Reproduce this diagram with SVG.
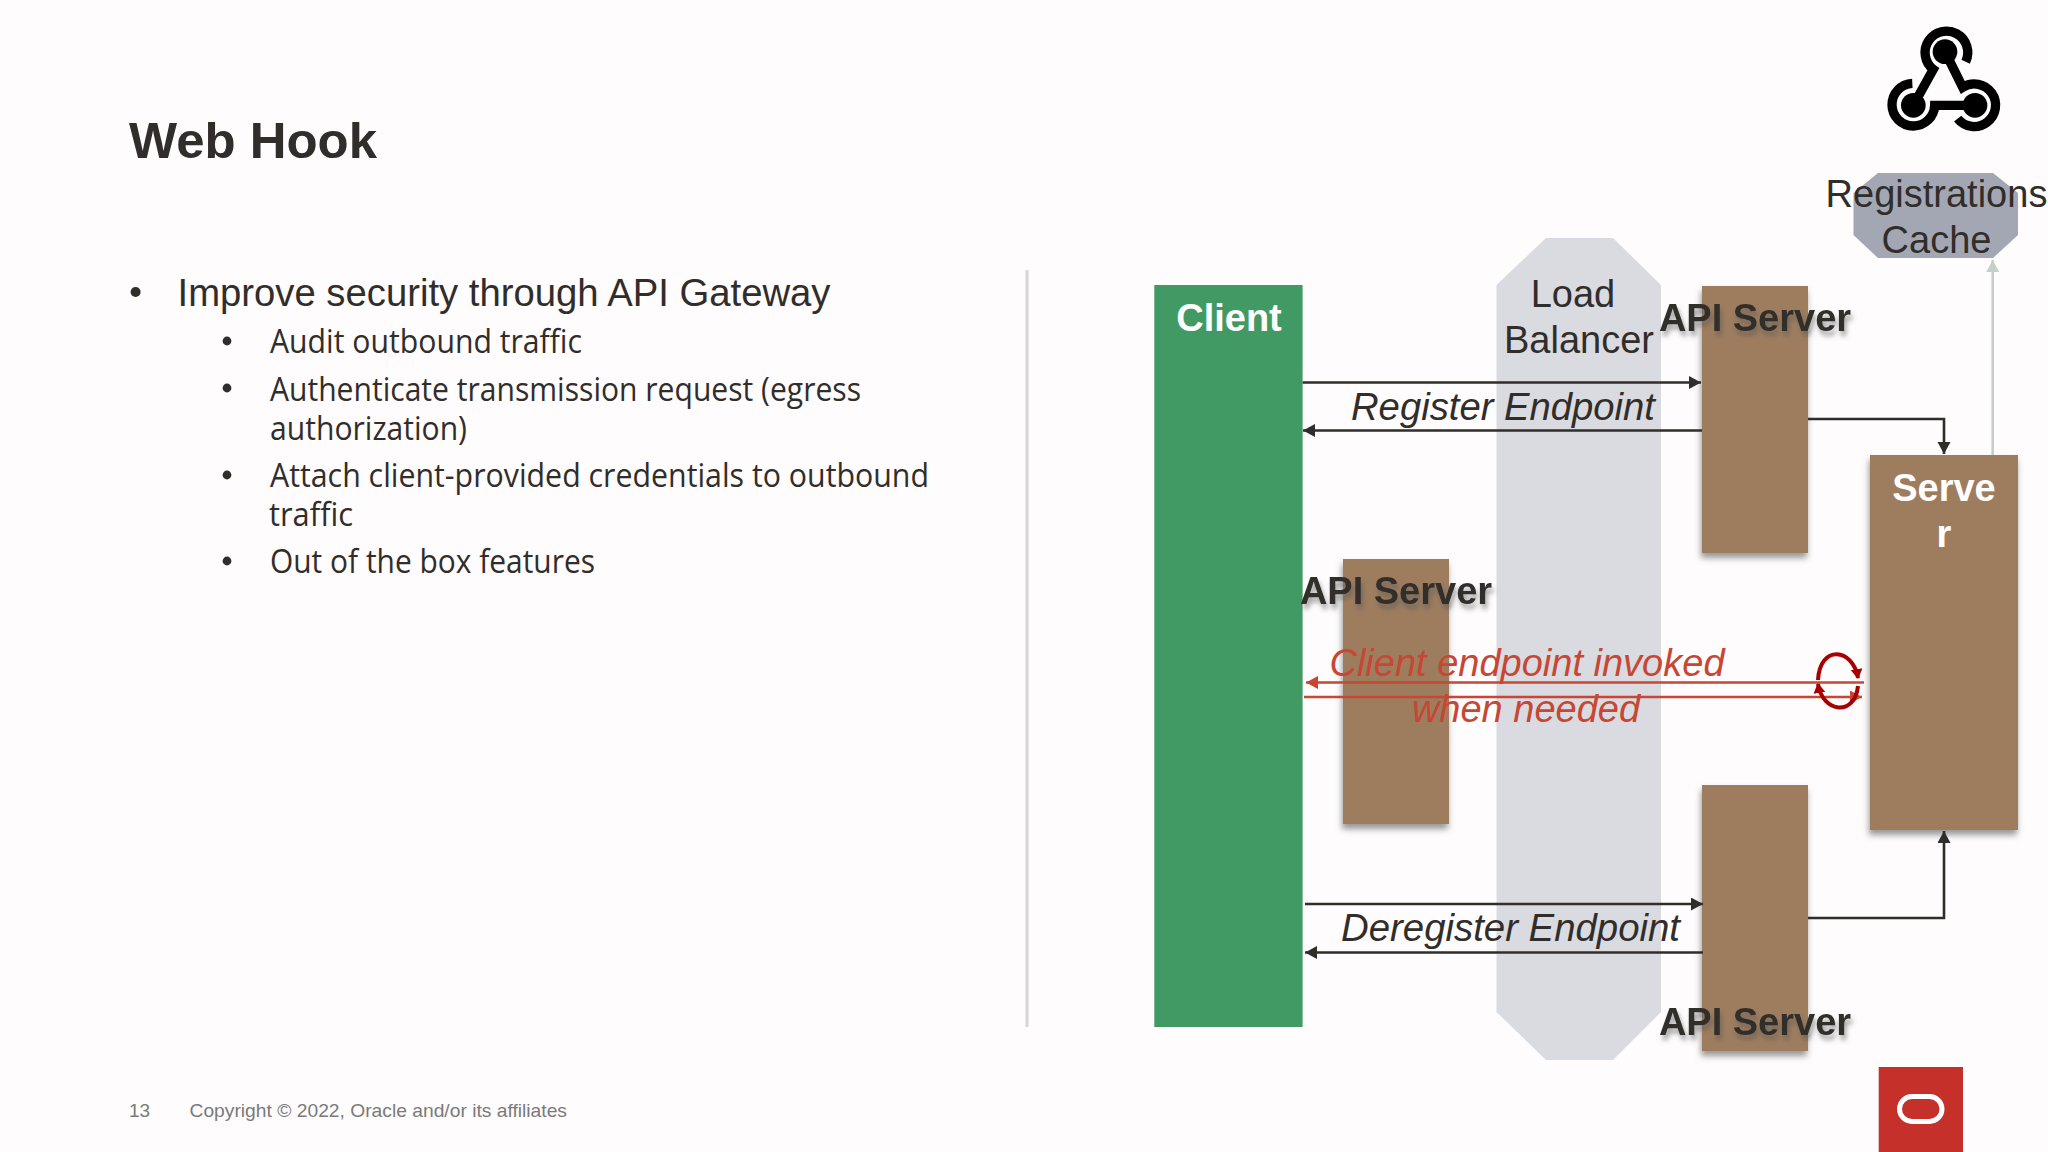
<svg xmlns="http://www.w3.org/2000/svg" width="2048" height="1152" viewBox="0 0 2048 1152">
<style>
text{font-family:"Liberation Sans",Arial,sans-serif;fill:#312d2a}
.m{text-anchor:middle}
.d{font-size:38px}
.b{font-size:38px;font-weight:700}
.i{font-size:38px;font-style:italic}
.r{fill:#c74634}
.l1{font-size:38px}
.l2{font-family:"Open Sans","Noto Sans",sans-serif;font-size:32px;font-weight:400}
.brown{fill:#9e7d5e;filter:url(#bs)}
.c{fill:none;stroke:#312d2a;stroke-width:2.6}
.cr{fill:none;stroke:#c74634;stroke-width:2.6}
.ic{fill:none;stroke:#000;stroke-width:28}
.f{font-size:19px;fill:#7a7a7a}
</style>
<defs>
<filter id="bs" x="-20%" y="-10%" width="140%" height="120%"><feDropShadow dx="-1" dy="5" stdDeviation="3" flood-color="#6d6d6d" flood-opacity=".7"/></filter>
<filter id="ts" x="-10%" y="-30%" width="120%" height="170%"><feDropShadow dx="2" dy="5" stdDeviation="2.5" flood-color="#555" flood-opacity=".55"/></filter>
<marker id="a" markerUnits="userSpaceOnUse" markerWidth="14" markerHeight="14" refX="12" refY="6.5" orient="auto"><path d="M0 0L12 6.5L0 13z" fill="#312d2a"/></marker>
<marker id="ar" markerUnits="userSpaceOnUse" markerWidth="14" markerHeight="14" refX="12" refY="6.5" orient="auto"><path d="M0 0L12 6.5L0 13z" fill="#c74634"/></marker>
<marker id="ag" markerUnits="userSpaceOnUse" markerWidth="14" markerHeight="14" refX="12" refY="6.5" orient="auto"><path d="M0 0L12 6.5L0 13z" fill="#c5cfca"/></marker>
<marker id="ad" markerUnits="userSpaceOnUse" markerWidth="14" markerHeight="14" refX="9" refY="6" orient="auto"><path d="M0 0L10 6L0 12z" fill="#a80000"/></marker>
</defs>
<rect width="2048" height="1152" fill="#fefcfc"/>
<g id="slide-text">
<text x="129" y="157.500" font-size="50" font-weight="700" textLength="248" lengthAdjust="spacingAndGlyphs">Web Hook</text>
<circle cx="135.6" cy="292" r="5" fill="#312d2a"/>
<text class="l1" x="177.5" y="305.500" textLength="653" lengthAdjust="spacingAndGlyphs">Improve security through API Gateway</text>
<g fill="#312d2a"><circle cx="227" cy="341" r="4.4"/><circle cx="227" cy="388" r="4.4"/><circle cx="227" cy="475" r="4.4"/><circle cx="227" cy="561" r="4.4"/></g>
<text class="l2" x="270" y="353" textLength="312" lengthAdjust="spacingAndGlyphs">Audit outbound traffic</text>
<text class="l2" x="270" y="401" textLength="591" lengthAdjust="spacingAndGlyphs">Authenticate transmission request (egress</text>
<text class="l2" x="270" y="440" textLength="197" lengthAdjust="spacingAndGlyphs">authorization)</text>
<text class="l2" x="270" y="487" textLength="659" lengthAdjust="spacingAndGlyphs">Attach client-provided credentials to outbound</text>
<text class="l2" x="269" y="526" textLength="84" lengthAdjust="spacingAndGlyphs">traffic</text>
<text class="l2" x="270" y="573" textLength="325" lengthAdjust="spacingAndGlyphs">Out of the box features</text>
<text class="f" x="129" y="1117">13</text>
<text class="f" x="189.500" y="1117" textLength="377.500" lengthAdjust="spacingAndGlyphs">Copyright © 2022, Oracle and/or its affiliates</text>
</g>
<path id="divider" d="M1027 270V1027" stroke="#d6d6d6" stroke-width="3" fill="none"/>
<g id="webhook-icon" transform="translate(1780 0) scale(.33333)">
<path class="ic" d="M557 185A64 64 0 1 0 460 208L400 316"/>
<path class="ic" d="M397 250A64 64 0 1 0 464 316H585"/>
<path class="ic" d="M533 356A64 64 0 1 0 548 262L495 155"/>
<circle cx="495" cy="155" r="37"/><circle cx="400" cy="316" r="37"/><circle cx="585" cy="316" r="37"/>
</g>
<g id="load-balancer">
<path d="M1546 238H1613L1661 285V1012L1613 1060H1546L1496.500 1012V285z" fill="#d9dbe0"/>
<text class="d m" x="1573" y="307">Load</text>
<text class="d m" x="1579" y="353">Balancer</text>
</g>
<g id="client">
<rect x="1154.300" y="285" width="148.300" height="742" fill="#419a63"/>
<text class="b m" x="1229" y="331" style="fill:#fff">Client</text>
</g>
<g id="api-server-top">
<rect class="brown" x="1702" y="286" width="106" height="267"/>
<text class="b m" x="1755" y="331" filter="url(#ts)">API Server</text>
</g>
<g id="api-server-mid">
<rect class="brown" x="1343" y="559" width="106" height="265"/>
<text class="b m" x="1396" y="604" filter="url(#ts)">API Server</text>
</g>
<g id="api-server-bottom">
<rect class="brown" x="1702" y="785" width="106" height="266"/>
<text class="b m" x="1755" y="1035" filter="url(#ts)">API Server</text>
</g>
<g id="server">
<rect class="brown" x="1870" y="455" width="148" height="375"/>
<text class="b m" x="1944" y="501" style="fill:#fff">Serve</text>
<text class="b m" x="1944" y="547" style="fill:#fff">r</text>
</g>
<g id="registrations-cache">
<path d="M1878 173H1993L2018 193V235L1993 258H1878L1853.500 235V193z" fill="#a3a7b3"/>
<text class="d m" x="1936.500" y="207">Registrations</text>
<text class="d m" x="1936.500" y="253">Cache</text>
</g>
<g id="connectors">
<path class="c" marker-end="url(#a)" d="M1302.600 382.500H1701"/>
<path class="c" marker-end="url(#a)" d="M1702 430.500H1303"/>
<path class="c" marker-end="url(#a)" d="M1808 419H1944V454"/>
<path class="c" marker-end="url(#a)" d="M1808 918H1944V831"/>
<path class="c" marker-end="url(#a)" d="M1305 904H1703"/>
<path class="c" marker-end="url(#a)" d="M1703 952.500H1305"/>
<path d="M1992.700 455V260" fill="none" stroke="#c5cfca" stroke-width="2.600" marker-end="url(#ag)"/>
<path class="cr" marker-end="url(#ar)" d="M1864 682.500H1306"/>
<path class="cr" marker-end="url(#ar)" d="M1304 697H1862"/>
<path d="M1818 680C1820 644 1853 648 1858 678" fill="none" stroke="#a80000" stroke-width="4" marker-end="url(#ad)"/>
<path d="M1858 686C1855 716 1823 714 1818 684" fill="none" stroke="#a80000" stroke-width="4" marker-end="url(#ad)"/>
<text class="i" x="1503" y="420" textLength="304" lengthAdjust="spacingAndGlyphs" text-anchor="middle">Register Endpoint</text>
<text class="i" x="1510.500" y="941" textLength="339" lengthAdjust="spacingAndGlyphs" text-anchor="middle">Deregister Endpoint</text>
<text class="i m r" x="1527" y="676">Client endpoint invoked</text>
<text class="i m r" x="1526" y="722">when needed</text>
</g>
<g id="oracle-logo">
<rect x="1878.700" y="1067" width="84.300" height="85" fill="#c5302b"/>
<rect x="1899.500" y="1096.500" width="42.500" height="25" rx="12.500" fill="none" stroke="#fff" stroke-width="5"/>
</g>
</svg>
